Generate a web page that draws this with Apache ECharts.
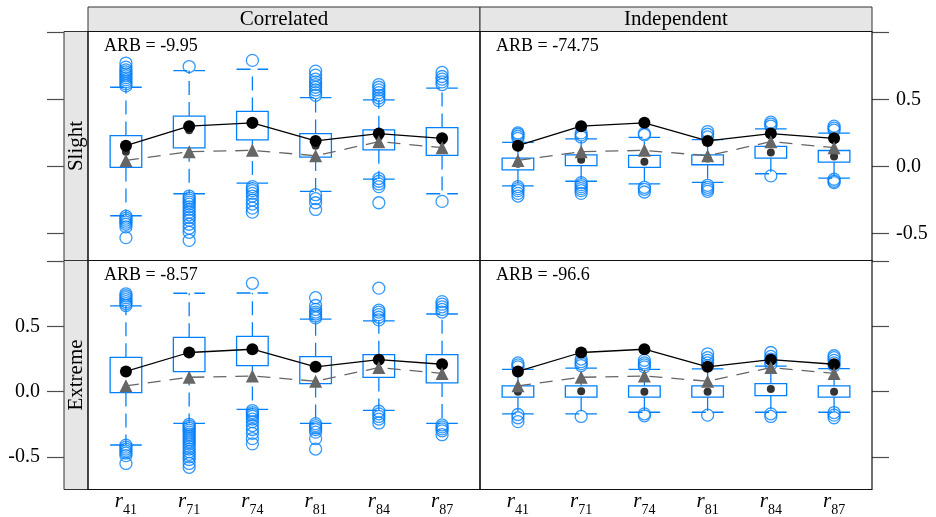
<!DOCTYPE html>
<html>
<head>
<meta charset="utf-8">
<script src="https://cdn.jsdelivr.net/npm/echarts@6/dist/echarts.min.js"></script>
<style>
html, body { margin: 0; padding: 0; background: #fff; }
#chart { width: 936px; height: 517px; }
</style>
</head>
<body>
<div id="chart"></div>
<script>
// Categories (subscripts of r) and panel labels
const categories = ['41', '71', '74', '81', '84', '87'];
const colLabels = ['Correlated', 'Independent'];
const rowLabels = ['Slight', 'Extreme'];
const arbLabels = ['ARB = -9.95', 'ARB = -74.75', 'ARB = -8.57', 'ARB = -96.6'];
const yTickValues = [-0.5, 0, 0.5, 1];
const yLabelValues = [-0.5, 0, 0.5];

// Reference values shared by every panel
const trueValues = [0.155, 0.30, 0.325, 0.19, 0.245, 0.21];
const estValues = [0.045, 0.11, 0.12, 0.08, 0.185, 0.14];

// Box statistics: [lower whisker, Q1, median, Q3, upper whisker]
const corSlightBox = [
  [-0.367, -0.007, 0.11, 0.23, 0.59],
  [-0.203, 0.139, 0.27, 0.375, 0.714],
  [-0.124, 0.198, 0.31, 0.41, 0.724],
  [-0.186, 0.07, 0.155, 0.245, 0.513],
  [-0.094, 0.124, 0.22, 0.273, 0.496],
  [-0.203, 0.082, 0.19, 0.29, 0.583]
];
const corSlightOut = [
  [0.60, 0.615, 0.63, 0.645, 0.66, 0.675, 0.69, 0.705, 0.72, 0.74, 0.77, -0.37, -0.385, -0.40, -0.415, -0.43, -0.45, -0.53],
  [0.744, -0.22, -0.235, -0.25, -0.265, -0.28, -0.30, -0.32, -0.34, -0.36, -0.38, -0.40, -0.43, -0.46, -0.49, -0.55],
  [0.79, -0.15, -0.165, -0.18, -0.20, -0.22, -0.25, -0.28, -0.31, -0.34],
  [0.53, 0.55, 0.57, 0.59, 0.61, 0.63, 0.65, 0.68, 0.71, -0.21, -0.24, -0.27, -0.32],
  [0.49, 0.51, 0.53, 0.55, 0.57, 0.59, 0.61, -0.09, -0.11, -0.13, -0.15, -0.27],
  [0.61, 0.63, 0.65, 0.67, 0.70, -0.26]
];

const indSlightBox = [
  [-0.144, -0.025, 0.02, 0.062, 0.18],
  [-0.11, 0.007, 0.05, 0.087, 0.205],
  [-0.129, -0.007, 0.035, 0.082, 0.216],
  [-0.119, 0.013, 0.06, 0.087, 0.20],
  [-0.054, 0.062, 0.104, 0.149, 0.28],
  [-0.087, 0.033, 0.074, 0.119, 0.248]
];
const indSlightOut = [
  [0.21, 0.225, 0.24, 0.25, -0.15, -0.165, -0.18, -0.20, -0.22],
  [0.22, 0.235, 0.25, -0.12, -0.135, -0.15, -0.165, -0.18, -0.20],
  [0.235, 0.245, -0.155, -0.17, -0.19],
  [0.22, 0.24, 0.26, -0.14, -0.155, -0.17, -0.185],
  [0.30, 0.315, 0.33, -0.07],
  [0.27, 0.285, 0.30, -0.095, -0.11, -0.12]
];

const corExtremeBox = [
  [-0.409, -0.007, 0.15, 0.263, 0.657],
  [-0.243, 0.154, 0.30, 0.416, 0.754],
  [-0.136, 0.20, 0.32, 0.424, 0.756],
  [-0.243, 0.062, 0.19, 0.268, 0.555],
  [-0.143, 0.109, 0.24, 0.283, 0.543],
  [-0.243, 0.067, 0.20, 0.283, 0.595]
];
const corExtremeOut = [
  [0.66, 0.675, 0.69, 0.705, 0.72, 0.735, 0.75, -0.41, -0.425, -0.44, -0.455, -0.47, -0.49, -0.55],
  [-0.25, -0.265, -0.28, -0.295, -0.31, -0.325, -0.34, -0.355, -0.37, -0.385, -0.40, -0.42, -0.44, -0.46, -0.48, -0.50, -0.52, -0.55, -0.58],
  [0.83, -0.145, -0.16, -0.175, -0.19, -0.21, -0.23, -0.26, -0.29, -0.32, -0.36, -0.40],
  [0.565, 0.58, 0.595, 0.61, 0.63, 0.66, 0.72, -0.245, -0.26, -0.275, -0.29, -0.31, -0.36, -0.44],
  [0.55, 0.57, 0.59, 0.61, 0.625, 0.793, -0.15, -0.17, -0.19, -0.21, -0.24],
  [0.61, 0.63, 0.65, 0.67, 0.69, -0.255, -0.27, -0.285, -0.30, -0.33]
];

const indExtremeBox = [
  [-0.171, -0.042, 0.0, 0.045, 0.171],
  [-0.171, -0.042, 0.003, 0.045, 0.18],
  [-0.158, -0.042, 0.0, 0.045, 0.171],
  [-0.158, -0.042, 0.0, 0.045, 0.175],
  [-0.158, -0.03, 0.02, 0.062, 0.196],
  [-0.158, -0.042, 0.0, 0.045, 0.176]
];
const indExtremeOut = [
  [0.19, 0.205, 0.22, -0.175, -0.20, -0.23],
  [0.20, 0.215, 0.23, 0.25, -0.19],
  [0.19, 0.205, 0.22, 0.24, -0.17, -0.185],
  [0.20, 0.22, 0.24, 0.26, 0.29, -0.18],
  [0.21, 0.23, 0.25, 0.27, 0.30, -0.17, -0.19],
  [0.20, 0.22, 0.24, 0.26, 0.275, -0.16, -0.18, -0.20]
];

const panelBoxes = [corSlightBox, indSlightBox, corExtremeBox, indExtremeBox];
const panelOutliers = [corSlightOut, indSlightOut, corExtremeOut, indExtremeOut];

// ---------- layout & style ----------
const BLUE = '#0080ff';
const SERIF = "'Liberation Serif', 'DejaVu Serif', serif";
const Y_MIN = -0.70, Y_MAX = 1.005;
const colLeft = [88, 480];            // panel frame left edges
const panelW = 392;
const rowTop = [31.5, 260.5];
const rowH = 229;
const unit = panelW / 6.2;            // x range 0.4 .. 6.6 around categories 1..6
const innerLeft = colLeft.map(l => l + 0.1 * unit);
const innerW = unit * 6;

function renderBox(params, api) {
  const k = api.value(0);
  const lo = api.coord([k, api.value(1)]);
  const q1 = api.coord([k, api.value(2)]);
  const q3 = api.coord([k, api.value(4)]);
  const hi = api.coord([k, api.value(5)]);
  const bw = api.size([1, 0])[0] * 0.5;
  const x = q1[0];
  const solid = { stroke: BLUE, lineWidth: 1.3, fill: null };
  const dashed = { stroke: BLUE, lineWidth: 1.3, fill: null, lineDash: [14, 7] };
  return {
    type: 'group',
    children: [
      { type: 'line', shape: { x1: x, y1: q3[1], x2: x, y2: hi[1] }, style: dashed },
      { type: 'line', shape: { x1: x, y1: q1[1], x2: x, y2: lo[1] }, style: dashed },
      { type: 'line', shape: { x1: x - bw / 2, y1: hi[1], x2: x + bw / 2, y2: hi[1] }, style: dashed },
      { type: 'line', shape: { x1: x - bw / 2, y1: lo[1], x2: x + bw / 2, y2: lo[1] }, style: dashed },
      { type: 'rect', shape: { x: x - bw / 2, y: q3[1], width: bw, height: q1[1] - q3[1] }, style: solid }
    ]
  };
}

const grids = [], xAxes = [], yAxes = [], series = [];
for (let p = 0; p < 4; p++) {
  const col = p % 2, row = Math.floor(p / 2);
  grids.push({ left: innerLeft[col], top: rowTop[row], width: innerW, height: rowH });
  xAxes.push({
    type: 'category', gridIndex: p, data: categories, boundaryGap: true,
    axisLine: { show: false }, axisTick: { show: false },
    axisLabel: {
      show: row === 1, margin: 8, interval: 0,
      formatter: v => '{r|r}{s|' + v + '}',
      rich: {
        r: { fontFamily: SERIF, fontStyle: 'italic', fontSize: 21, color: '#000', verticalAlign: 'bottom', padding: [0, 0, 5, 0] },
        s: { fontFamily: SERIF, fontSize: 14, color: '#000', verticalAlign: 'bottom' }
      }
    },
    splitLine: { show: false }
  });
  const labelled = (row === 0 && col === 1) || (row === 1 && col === 0);
  yAxes.push({
    type: 'value', gridIndex: p, min: Y_MIN, max: Y_MAX,
    position: col === 0 ? 'left' : 'right',
    offset: col === 0 ? innerLeft[0] - 64 : 872 - (innerLeft[1] + innerW),
    axisLine: { show: false },
    splitLine: { show: false },
    axisTick: { show: true, inside: false, length: 17, customValues: yTickValues, lineStyle: { color: '#4d4d4d', width: 1.2 } },
    axisLabel: {
      show: labelled, customValues: yLabelValues, margin: 24,
      formatter: v => v.toFixed(1),
      fontFamily: SERIF, fontSize: 20, color: '#000'
    }
  });

  const boxes = panelBoxes[p];
  series.push({
    type: 'custom', xAxisIndex: p, yAxisIndex: p,
    renderItem: renderBox,
    encode: { x: 0, y: [1, 2, 3, 4, 5] },
    data: boxes.map((b, k) => [k, b[0], b[1], b[2], b[3], b[4]]),
    z: 2
  });
  const outPts = [];
  panelOutliers[p].forEach((vals, k) => vals.forEach(v => outPts.push([k, v])));
  series.push({
    type: 'scatter', xAxisIndex: p, yAxisIndex: p,
    data: outPts, symbol: 'circle', symbolSize: 12,
    itemStyle: { color: 'rgba(0,0,0,0)', borderColor: BLUE, borderWidth: 1.3 },
    z: 3
  });
  series.push({
    type: 'scatter', xAxisIndex: p, yAxisIndex: p,
    data: boxes.map((b, k) => [k, b[2]]), symbol: 'circle', symbolSize: 8,
    itemStyle: { color: '#000' }, z: 4
  });
  series.push({
    type: 'line', xAxisIndex: p, yAxisIndex: p,
    data: trueValues, symbol: 'circle', symbolSize: 12,
    itemStyle: { color: '#000' },
    lineStyle: { color: '#000', width: 1.3 }, z: 5
  });
  series.push({
    type: 'line', xAxisIndex: p, yAxisIndex: p,
    data: estValues, symbol: 'triangle', symbolSize: 13,
    itemStyle: { color: '#666666' },
    lineStyle: { color: '#666666', width: 1.3, type: [13, 9] }, z: 6
  });
}

// strips, panel frames and annotations
const graphics = [];
const STRIP_BG = '#e6e6e6', FRAME = '#333';
colLabels.forEach((t, c) => {
  graphics.push({ type: 'rect', shape: { x: colLeft[c], y: 7, width: panelW, height: rowTop[0] - 7 },
    style: { fill: STRIP_BG, stroke: FRAME, lineWidth: 1 }, z: 0 });
  graphics.push({ type: 'text', x: colLeft[c] + panelW / 2, y: (7 + rowTop[0]) / 2,
    style: { text: t, fontFamily: SERIF, fontSize: 21, fill: '#000', align: 'center', verticalAlign: 'middle' }, z: 1 });
});
rowLabels.forEach((t, r) => {
  graphics.push({ type: 'rect', shape: { x: 64, y: rowTop[r], width: 24, height: rowH },
    style: { fill: STRIP_BG, stroke: FRAME, lineWidth: 1 }, z: 0 });
  graphics.push({ type: 'text', x: 76, y: rowTop[r] + rowH / 2, rotation: Math.PI / 2,
    style: { text: t, fontFamily: SERIF, fontSize: 21, fill: '#000', align: 'center', verticalAlign: 'middle' }, z: 1 });
});
for (let p = 0; p < 4; p++) {
  const col = p % 2, row = Math.floor(p / 2);
  graphics.push({ type: 'rect', shape: { x: colLeft[col], y: rowTop[row], width: panelW, height: rowH },
    style: { fill: null, stroke: '#111', lineWidth: 1.2 }, z: 1 });
  graphics.push({ type: 'text', x: colLeft[col] + 16, y: rowTop[row] + 15,
    style: { text: arbLabels[p], fontFamily: SERIF, fontSize: 18, fill: '#000', align: 'left', verticalAlign: 'middle' }, z: 1 });
}

const chart = echarts.init(document.getElementById('chart'), null, { renderer: 'canvas' });
chart.setOption({
  animation: false,
  backgroundColor: '#fff',
  grid: grids,
  xAxis: xAxes,
  yAxis: yAxes,
  series: series,
  graphic: { elements: graphics }
});
</script>
</body>
</html>
